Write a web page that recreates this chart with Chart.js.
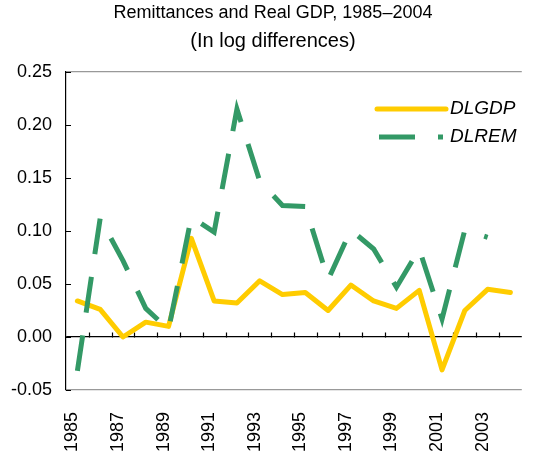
<!DOCTYPE html>
<html>
<head>
<meta charset="utf-8">
<script src="https://cdn.jsdelivr.net/npm/chart.js@4.4.1/dist/chart.umd.min.js"></script>
<style>
  html, body { margin: 0; padding: 0; background: #fff; overflow: hidden; }
  #wrap { width: 546px; height: 452px; }
</style>
</head>
<body>
<div id="wrap"><canvas id="remitChart"></canvas></div>
<script>
const years = ['1985', '1986', '1987', '1988', '1989', '1990', '1991', '1992', '1993', '1994',
  '1995', '1996', '1997', '1998', '1999', '2000', '2001', '2002', '2003', '2004'];
const dlgdp = [0.034, 0.026, 0.000, 0.014, 0.010, 0.093, 0.034, 0.032, 0.053, 0.040,
  0.042, 0.025, 0.049, 0.034, 0.027, 0.044, -0.031, 0.025, 0.045, 0.042];
const dlrem = [-0.032, 0.112, 0.072, 0.027, 0.007, 0.113, 0.099, 0.215, 0.147, 0.124,
  0.123, 0.054, 0.101, 0.083, 0.047, 0.083, 0.017, 0.101, 0.094, null];
const titleText = 'Remittances and Real GDP, 1985\u20132004';
const subtitleText = '(In log differences)';
const yMin = -0.05, yMax = 0.25, yStep = 0.05;

const YELLOW = '#FFCC00';
const GREEN = '#339966';
const FONT = "'Liberation Sans', Arial, sans-serif";

// inward tick marks, plus the legend drawn inside the plot
const axisDecor = {
  id: 'axisDecor',
  beforeDatasetsDraw(chart) {
    const ctx = chart.ctx;
    const x = chart.scales.x, y = chart.scales.y;
    const area = chart.chartArea;
    ctx.save();
    ctx.strokeStyle = '#000';
    ctx.lineWidth = 1.2;
    ctx.beginPath();
    y.ticks.forEach(t => {
      const py = Math.round(y.getPixelForValue(t.value)) + 0.5;
      ctx.moveTo(area.left, py);
      ctx.lineTo(area.left + 5, py);
    });
    const y0 = Math.round(y.getPixelForValue(0)) + 0.5;
    for (let i = 1; i < years.length; i++) {
      const px = Math.round((x.getPixelForValue(i - 1) + x.getPixelForValue(i)) / 2) + 0.5;
      ctx.moveTo(px, y0);
      ctx.lineTo(px, y0 - 5);
    }
    ctx.stroke();
    ctx.restore();
  },
  afterDraw(chart) {
    const ctx = chart.ctx;
    const items = [
      { label: 'DLGDP', color: YELLOW, dash: [], cap: 'round', y: 109, x1: 377, x2: 446 },
      { label: 'DLREM', color: GREEN, dash: [36, 23], cap: 'butt', y: 137, x1: 379, x2: 443 }
    ];
    ctx.save();
    items.forEach(it => {
      ctx.beginPath();
      ctx.setLineDash(it.dash);
      ctx.lineCap = it.cap;
      ctx.lineWidth = 5;
      ctx.strokeStyle = it.color;
      ctx.moveTo(it.x1, it.y);
      ctx.lineTo(it.x2, it.y);
      ctx.stroke();
      ctx.setLineDash([]);
      ctx.fillStyle = '#000';
      ctx.font = 'italic 19px ' + FONT;
      ctx.textBaseline = 'middle';
      ctx.textAlign = 'left';
      ctx.fillText(it.label, 450, it.y);
    });
    ctx.restore();
  }
};

const ctx = document.getElementById('remitChart').getContext('2d');
new Chart(ctx, {
  type: 'line',
  data: {
    labels: years,
    datasets: [{
      label: 'DLGDP',
      data: dlgdp,
      borderColor: YELLOW,
      backgroundColor: YELLOW,
      borderWidth: 5,
      borderJoinStyle: 'round',
      borderCapStyle: 'round',
      pointRadius: 0,
      tension: 0,
      order: 2
    }, {
      label: 'DLREM',
      data: dlrem,
      borderColor: GREEN,
      backgroundColor: GREEN,
      borderWidth: 5,
      borderDash: [36, 23],
      borderCapStyle: 'butt',
      pointRadius: 0,
      tension: 0,
      order: 1
    }]
  },
  options: {
    responsive: true,
    maintainAspectRatio: false,
    animation: false,
    layout: { padding: 0 },
    scales: {
      x: {
        offset: true,
        grid: { display: false },
        border: { display: false },
        ticks: {
          autoSkip: false,
          minRotation: 90,
          maxRotation: 90,
          padding: 14,
          labelOffset: -5,
          color: '#000',
          font: { family: FONT, size: 18 },
          callback: (v, i) => (i % 2 === 0 ? years[i] : '')
        },
        afterFit: s => { s.height = 62; }
      },
      y: {
        min: yMin,
        max: yMax,
        border: { display: true, color: '#000', width: 1.2 },
        grid: {
          drawTicks: false,
          lineWidth: 1.2,
          color: c => {
            const v = c.tick ? Math.round(c.tick.value * 100) / 100 : null;
            if (v === 0) return '#000';
            if (v === yMax || v === yMin) return '#999';
            return 'rgba(0,0,0,0)';
          }
        },
        ticks: {
          stepSize: yStep,
          padding: 14,
          color: '#000',
          font: { family: FONT, size: 18 },
          callback: v => (Math.round(v * 100) / 100 + 0).toFixed(2)
        },
        afterFit: s => { s.width = 66; }
      }
    },
    plugins: {
      legend: { display: false },
      tooltip: { enabled: false },
      title: {
        display: true,
        text: titleText,
        color: '#000',
        font: { family: FONT, size: 18, weight: 'normal', lineHeight: '27px' },
        padding: { top: 0, bottom: 1 }
      },
      subtitle: {
        display: true,
        text: subtitleText,
        color: '#000',
        font: { family: FONT, size: 20, weight: 'normal', lineHeight: '24px' },
        padding: { top: 1, bottom: 19 }
      }
    }
  },
  plugins: [axisDecor]
});
</script>
</body>
</html>
